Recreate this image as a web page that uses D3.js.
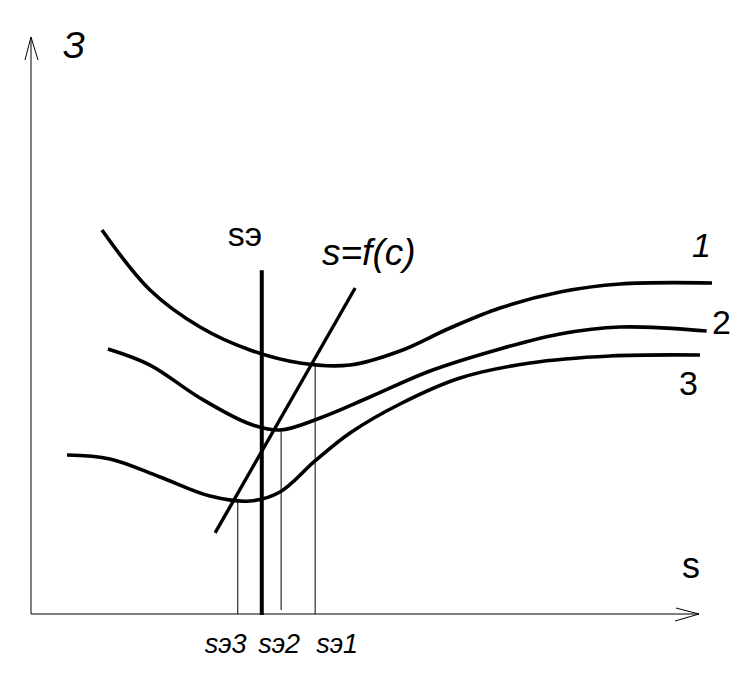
<!DOCTYPE html>
<html>
<head>
<meta charset="utf-8">
<script src="https://cdn.jsdelivr.net/npm/d3@7"></script>
<style>
  html, body { margin: 0; padding: 0; background: #fff; }
  svg { display: block; }
  text { font-family: "Liberation Sans", Arial, sans-serif; fill: #000; }
</style>
</head>
<body>
<svg id="chart" width="756" height="681"></svg>
<script>
// ---- data (abstract units: s on x 0..100, З on y 0..100) ----
const curve1 = [[10.64,66.78],[17.84,56.35],[25.34,49.91],[32.83,45.91],[40.33,43.65],[47.83,43.30],[55.32,45.74],[62.82,49.74],[70.31,53.22],[79.31,56.00],[88.31,57.39],[102.1,57.57]];
const curve2 = [[11.54,46.09],[17.84,43.30],[25.34,37.57],[32.83,33.04],[37.33,32.00],[43.33,34.09],[50.82,37.74],[59.82,42.26],[70.31,46.09],[79.31,48.70],[88.31,49.91],[101.3,49.22]];
const curve3 = [[5.40,27.65],[11.84,26.96],[19.34,23.83],[26.84,20.52],[32.83,19.65],[37.33,21.22],[42.58,26.61],[47.83,31.48],[55.32,36.52],[64.32,41.04],[74.81,43.65],[86.81,44.87],[100.3,45.04]];
const curveLabels = ["1", "2", "3"];
const supplyLine = [[27.6,14.1],[48.6,56.7]];          // s=f(c)
const sE = { x: 34.6, top: 59.8 };                      // vertical sэ
const eqX = [31.0, 37.5, 42.6];                         // sэ3, sэ2, sэ1
const eqY = [19.5, 32.0, 43.3];                         // heights on curves 3, 2, 1
const eqLabels = ["sэ3", "sэ2", "sэ1"];
const axisLabels = { y: "З", x: "s" };

// ---- scales ----
const svg = d3.select("#chart");
const x = d3.scaleLinear().domain([0, 100]).range([31, 698]);
const y = d3.scaleLinear().domain([0, 100]).range([614, 39]);
const line = d3.line().x(d => x(d[0])).y(d => y(d[1])).curve(d3.curveCatmullRom.alpha(0.5));
const straight = d3.line().x(d => x(d[0])).y(d => y(d[1]));

// ---- axes with open arrows ----
const ax = svg.append("g").attr("stroke", "#000").attr("fill", "none").attr("stroke-width", 1);
ax.append("line").attr("x1", x(0)).attr("y1", y(0)).attr("x2", x(0)).attr("y2", 37);
ax.append("path").attr("d", `M${x(0)-6},60 L${x(0)},37 L${x(0)+7},60`);
ax.append("line").attr("x1", x(0)).attr("y1", y(0)).attr("x2", 699).attr("y2", y(0));
ax.append("path").attr("d", `M676,${y(0)-6} L699,${y(0)} L675,${y(0)+7}`);

// ---- thin drop lines ----
eqX.forEach((v, i) => {
  svg.append("line")
    .attr("x1", x(v)).attr("x2", x(v))
    .attr("y1", y(eqY[i])).attr("y2", i === 1 ? y(0) - 4 : y(0))
    .attr("stroke", "#000").attr("stroke-width", 1);
});

// ---- curves ----
[curve1, curve2, curve3].forEach(c => {
  svg.append("path").attr("d", line(c))
    .attr("fill", "none").attr("stroke", "#000").attr("stroke-width", 3.6)
    .attr("stroke-linecap", "butt").attr("stroke-linejoin", "round");
});

// ---- s=f(c) line ----
svg.append("path").attr("d", straight(supplyLine))
  .attr("fill", "none").attr("stroke", "#000").attr("stroke-width", 3.4);

// ---- vertical sэ ----
svg.append("line")
  .attr("x1", x(sE.x)).attr("x2", x(sE.x))
  .attr("y1", y(sE.top)).attr("y2", y(0) + 1)
  .attr("stroke", "#000").attr("stroke-width", 4);

// ---- texts ----
svg.append("text").attr("x", 63).attr("y", 58).attr("font-size", 36).attr("font-style", "italic").text(axisLabels.y);
svg.append("text").attr("x", 682).attr("y", 578).attr("font-size", 36).text(axisLabels.x);
svg.append("text").attr("x", x(sE.x) - 34).attr("y", 246).attr("font-size", 34).text("sэ");
svg.append("text").attr("x", 322).attr("y", 265).attr("font-size", 37).attr("font-style", "italic").text("s=f(c)");

const lblPos = [[692, 257, "italic"], [712, 334, "normal"], [679, 395, "normal"]];
curveLabels.forEach((t, i) => {
  svg.append("text").attr("x", lblPos[i][0]).attr("y", lblPos[i][1])
    .attr("font-size", 34).attr("font-style", lblPos[i][2]).text(t);
});

const eqOff = [-33, -23, 1];
eqLabels.forEach((t, i) => {
  svg.append("text").attr("x", x(eqX[i]) + eqOff[i]).attr("y", 653)
    .attr("font-size", 27).attr("font-style", "italic").text(t);
});
</script>
</body>
</html>
